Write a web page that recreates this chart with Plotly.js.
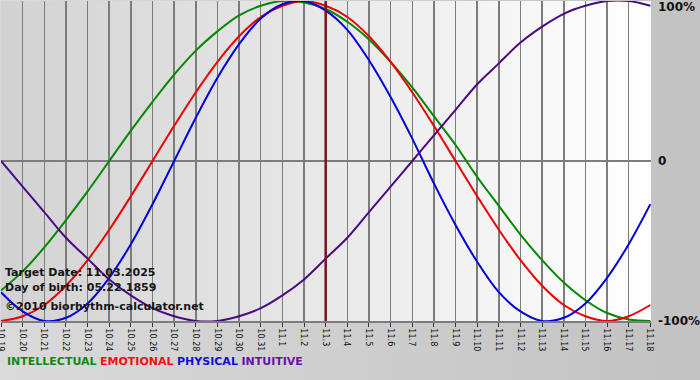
<!DOCTYPE html>
<html>
<head>
<meta charset="utf-8">
<script src="https://cdn.plot.ly/plotly-3.0.1.min.js"></script>
<style>
  html, body { margin: 0; padding: 0; }
  #wrap { position: relative; width: 700px; height: 380px; overflow: hidden;
          background: linear-gradient(to right, #dadada, #c2c2c2); }
  #plotbg { position: absolute; left: 1px; top: 1px; width: 650px; height: 320px;
            background: linear-gradient(to right, #d2d2d2, #ffffff); }
  #chart { position: absolute; left: 0; top: 0; width: 700px; height: 380px; }
</style>
</head>
<body>
<div id="wrap">
  <div id="plotbg"></div>
  <div id="chart"></div>
</div>
<script>
// Day labels (month.day), 10.19 … 11.18
const days = ['10.19','10.20','10.21','10.22','10.23','10.24','10.25','10.26','10.27','10.28','10.29','10.30','10.31',
              '11.1','11.2','11.3','11.4','11.5','11.6','11.7','11.8','11.9','11.10','11.11','11.12','11.13','11.14',
              '11.15','11.16','11.17','11.18'];

// Values (-1 = -100%, 1 = 100%)
const intellectual = [-0.81,-0.69,-0.54,-0.37,-0.19,0.00,0.19,0.37,0.54,0.69,0.81,0.91,0.97,1.00,0.99,0.95,0.87,0.76,0.62,0.46,0.28,0.10,-0.10,-0.28,-0.46,-0.62,-0.76,-0.87,-0.95,-0.99,-1.00];
const emotional    = [-1.00,-0.97,-0.90,-0.78,-0.62,-0.43,-0.22,0.00,0.22,0.43,0.62,0.78,0.90,0.97,1.00,0.97,0.90,0.78,0.62,0.43,0.22,0.00,-0.22,-0.43,-0.62,-0.78,-0.90,-0.97,-1.00,-0.97,-0.90];
const physical     = [-0.82,-0.94,-1.00,-0.98,-0.89,-0.73,-0.52,-0.27,0.00,0.27,0.52,0.73,0.89,0.98,1.00,0.94,0.82,0.63,0.40,0.14,-0.14,-0.40,-0.63,-0.82,-0.94,-1.00,-0.98,-0.89,-0.73,-0.52,-0.27];
const intuitive    = [0.00,-0.16,-0.32,-0.48,-0.61,-0.74,-0.84,-0.92,-0.97,-1.00,-1.00,-0.97,-0.92,-0.84,-0.74,-0.61,-0.48,-0.32,-0.16,0.00,0.16,0.32,0.48,0.61,0.74,0.84,0.92,0.97,1.00,1.00,0.97];

const seriesNames = ['INTELLECTUAL','EMOTIONAL','PHYSICAL','INTUITIVE'];
const targetDay = '11.3';
const yTickVals = [1, 0, -1];
const yTickText = ['100%', '0', '-100%'];
const infoLines = ['Target Date: 11.03.2025', 'Day of birth: 05.22.1859', '\u00a92010 biorhythm-calculator.net'];

const colors = ['#008800', '#ee0000', '#0000dd', '#4b0a82'];
const legendColors = ['#118811', '#ee1111', '#1111cc', '#6611aa'];
const data = [intellectual, emotional, physical, intuitive];

const traces = data.map((vals, k) => ({
  x: days, y: vals, type: 'scatter', mode: 'lines', name: seriesNames[k],
  line: { color: colors[k], width: 2, shape: 'spline', smoothing: 1 },
  hoverinfo: 'skip'
}));

const F = 'DejaVu Sans, Verdana, sans-serif';
const annotations = [];
// info text
const infoY = [0.153, 0.106, 0.044];
infoLines.forEach((t, i) => annotations.push({
  xref: 'paper', yref: 'paper', x: 0.003, y: infoY[i], xanchor: 'left', yanchor: 'middle',
  text: '<b>' + t + '</b>', showarrow: false, font: { family: F, size: 11, color: '#151515' }
}));
// right axis labels
yTickVals.forEach((v, i) => annotations.push({
  xref: 'paper', yref: 'y', x: 1, y: v, xanchor: 'left', yanchor: 'middle', xshift: 5,
  yshift: v === 1 ? -6 : 0,
  text: '<b>' + yTickText[i] + '</b>', showarrow: false, font: { family: F, size: 12, color: '#111' }
}));
// legend
annotations.push({
  xref: 'paper', yref: 'paper', x: 0.006, y: -0.128, xanchor: 'left', yanchor: 'middle', showarrow: false,
  text: seriesNames.map((n, k) => '<span style="color:' + legendColors[k] + '"><b>' + n + '</b></span>').join(' '),
  font: { family: F, size: 11 }
});

const layout = {
  width: 700, height: 380,
  margin: { l: 1, r: 49, t: 1, b: 59 },
  paper_bgcolor: 'rgba(0,0,0,0)', plot_bgcolor: 'rgba(0,0,0,0)',
  showlegend: false,
  xaxis: {
    type: 'category', range: [0, days.length - 1 + 0.03],
    showgrid: true, gridcolor: '#7c7c7c', gridwidth: 1.5,
    showline: true, linecolor: '#7c7c7c', linewidth: 1.5,
    ticks: 'outside', ticklen: 4, tickcolor: '#333', tickwidth: 1,
    tickangle: 90, tickfont: { family: 'DejaVu Sans Condensed, DejaVu Sans, sans-serif', size: 9, color: '#111' },
    zeroline: false, fixedrange: true
  },
  yaxis: {
    range: [-1, 1], tickvals: yTickVals, showticklabels: false,
    showgrid: true, gridcolor: '#7c7c7c', gridwidth: 1.5, zeroline: false, fixedrange: true
  },
  shapes: [{
    type: 'line', xref: 'x', yref: 'paper', x0: days.indexOf(targetDay), x1: days.indexOf(targetDay), y0: 0, y1: 1,
    line: { color: '#7a1020', width: 2.5 }, layer: 'above'
  }],
  annotations: annotations
};

Plotly.newPlot('chart', traces, layout, { displayModeBar: false, staticPlot: true });
</script>
</body>
</html>
